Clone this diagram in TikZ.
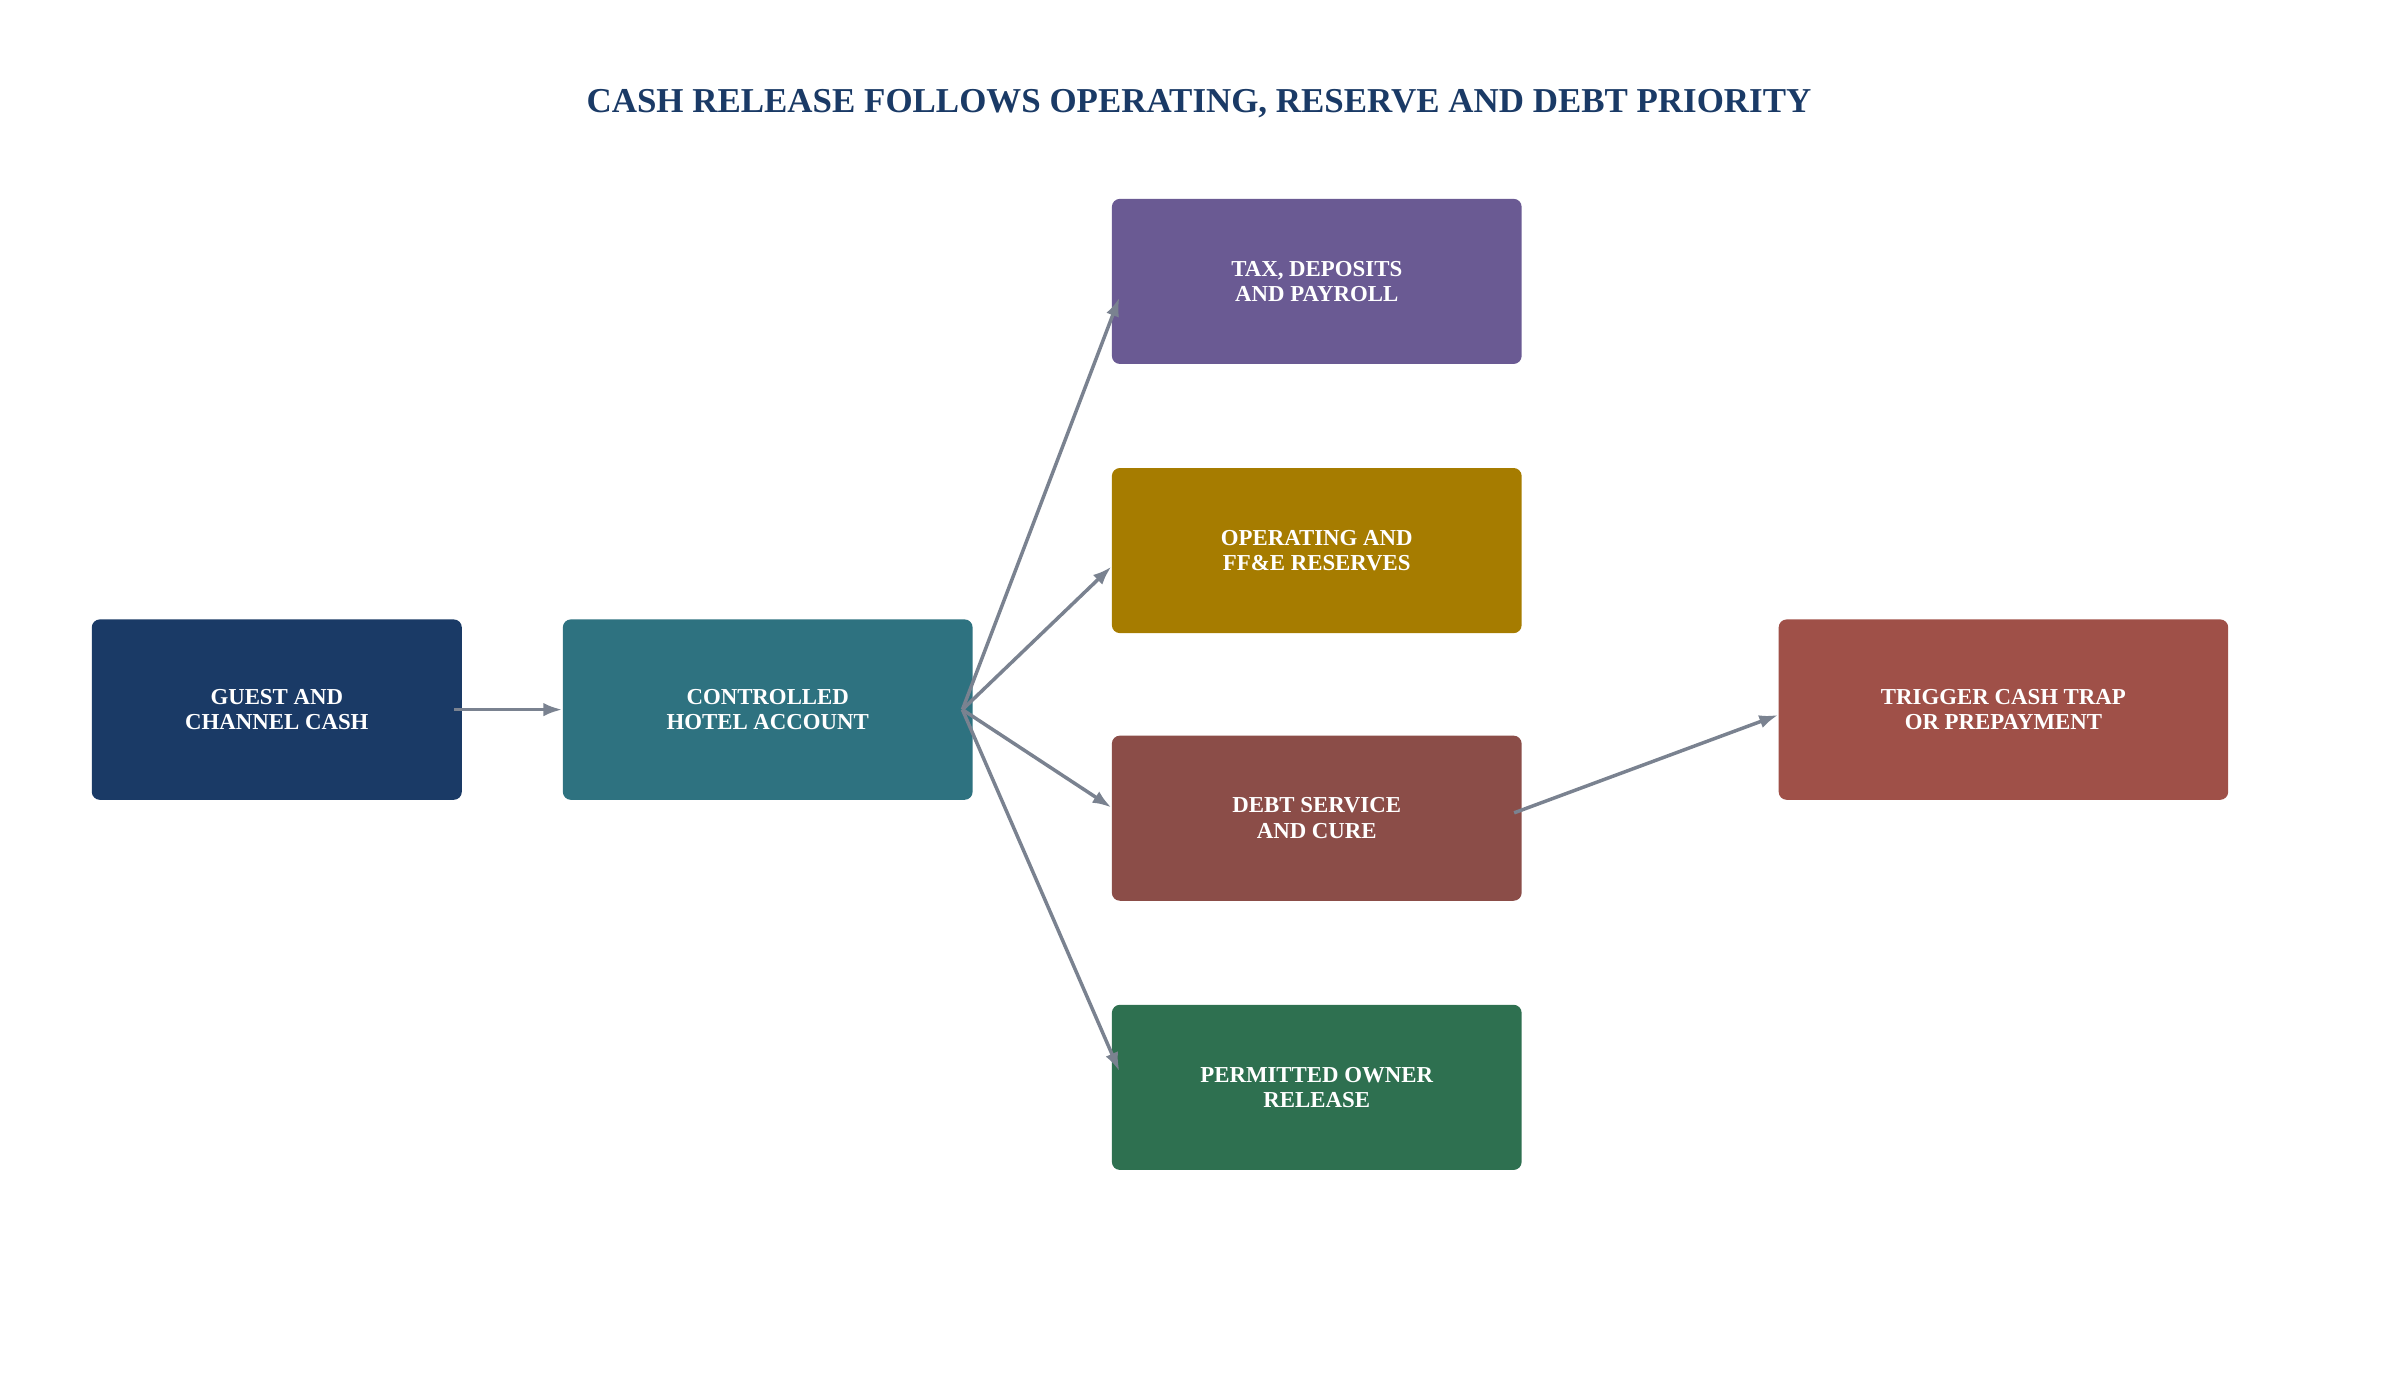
\documentclass[tikz,border=0pt]{standalone}
\usepackage{fontspec}
\setmainfont{Liberation Serif}
\usetikzlibrary{positioning,arrows.meta}
\definecolor{navy}{HTML}{1A3A66}
\definecolor{teal}{HTML}{2E7280}
\definecolor{violet}{HTML}{6A5A93}
\definecolor{ochre}{HTML}{A67C00}
\definecolor{brick}{HTML}{8B4D48}
\definecolor{forest}{HTML}{2E7050}
\definecolor{rust}{HTML}{9F5048}
\definecolor{link}{HTML}{7A8290}
\tikzset{
    box/.style={rounded corners=3pt, text=white, align=center, inner sep=0pt,
        font=\fontsize{8.5}{9.5}\selectfont\bfseries},
    flow/.style={-{Latex[length=7pt,width=5pt]}, link, line width=1.3pt}
}
\begin{document}
\begin{tikzpicture}[x=0.02cm,y=-0.02cm]
    \useasboundingbox (0,0) rectangle (1568,906);
    % title
    \node[text=navy, font=\fontsize{13}{15}\selectfont\bfseries] (title) at (784,68)
        {CASH RELEASE FOLLOWS OPERATING, RESERVE AND DEBT PRIORITY};

    % boxes
    \node[box, fill=navy, minimum width=4.84cm, minimum height=2.36cm] (guest) at (181,464) {GUEST AND\\CHANNEL CASH};
    \node[box, fill=teal, minimum width=5.36cm, minimum height=2.36cm] (ctrl) at (502,464) {CONTROLLED\\HOTEL ACCOUNT};
    \node[box, fill=violet, minimum width=5.36cm, minimum height=2.16cm] (tax) at (861,184) {TAX, DEPOSITS\\AND PAYROLL};
    \node[box, fill=ochre, minimum width=5.36cm, minimum height=2.16cm] (ops) at (861,360) {OPERATING AND\\FF\&E RESERVES};
    \node[box, fill=brick, minimum width=5.36cm, minimum height=2.16cm] (debt) at (861,535) {DEBT SERVICE\\AND CURE};
    \node[box, fill=forest, minimum width=5.36cm, minimum height=2.16cm] (owner) at (861,711) {PERMITTED OWNER\\RELEASE};
    \node[box, fill=rust, minimum width=5.88cm, minimum height=2.36cm] (trap) at (1310,464) {TRIGGER CASH TRAP\\OR PREPAYMENT};

    % connectors
    \draw[flow] ([xshift=-3pt]guest.east) -- (ctrl.west);
    \draw[flow] ([xshift=-4pt]ctrl.east) -- ([xshift=3pt,yshift=-6pt]tax.west);
    \draw[flow] ([xshift=-4pt]ctrl.east) -- ([yshift=-6pt]ops.west);
    \draw[flow] ([xshift=-4pt]ctrl.east) -- ([yshift=4pt]debt.west);
    \draw[flow] ([xshift=-4pt]ctrl.east) -- ([xshift=3pt,yshift=6pt]owner.west);
    \draw[flow] ([xshift=-3pt,yshift=2pt]debt.east) -- ([yshift=-2pt]trap.west);
\end{tikzpicture}
\end{document}
